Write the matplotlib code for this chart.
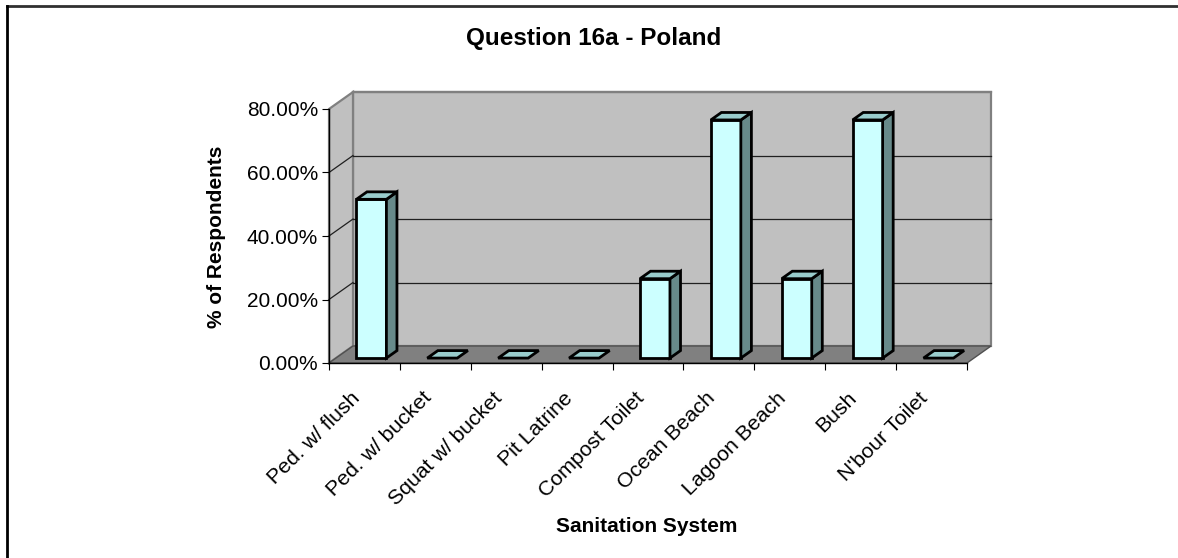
import matplotlib
matplotlib.use("Agg")
import matplotlib.pyplot as plt
from matplotlib.patches import Polygon
from matplotlib.transforms import offset_copy
import numpy as np

# donnees du graphique
categories = ["Ped. w/ flush", "Ped. w/ bucket", "Squat w/ bucket", "Pit Latrine",
              "Compost Toilet", "Ocean Beach", "Lagoon Beach", "Bush", "N'bour Toilet"]
valeurs = [50, 0, 0, 0, 25, 75, 25, 75, 0]
yticks = [0, 20, 40, 60, 80]

plt.rcParams['font.family'] = ['Liberation Sans', 'DejaVu Sans']

W, H = 1178, 558
fig = plt.figure(figsize=(W/100, H/100), dpi=100)
# zone du graphique : bord avant du sol -> axes
ax = fig.add_axes([329/W, 1-363/H, (967-329)/W, (363-109)/H])
n = len(categories)
ax.set_xlim(0, n)
ax.set_ylim(0, 80)
ax.patch.set_visible(False)

# profondeur 3D (en unites de donnees)
DX = 0.3386
DY = 5.35
ymax = yticks[-1]

gris_mur = "#C0C0C0"
gris_sol = "#808080"

# mur du fond
ax.add_patch(Polygon([(DX, DY), (n+DX, DY), (n+DX, ymax+DY), (DX, ymax+DY)],
                     closed=True, fc=gris_mur, ec=gris_sol, lw=1.6, clip_on=False, zorder=1))
# mur de gauche
ax.add_patch(Polygon([(0, 0), (DX, DY), (DX, ymax+DY), (0, ymax)],
                     closed=True, fc=gris_mur, ec=gris_sol, lw=1.6, clip_on=False, zorder=1))
# sol
ax.add_patch(Polygon([(0, 0), (n, 0), (n+DX, DY), (DX, DY)],
                     closed=True, fc=gris_sol, ec="#505050", lw=1.0, clip_on=False, zorder=1.2))

# quadrillage
for v in yticks[1:-1]:
    ax.plot([DX, n+DX], [v+DY, v+DY], color="#202020", lw=0.9, clip_on=False, zorder=1.1)
    ax.plot([0, DX], [v, v+DY], color="#202020", lw=0.9, clip_on=False, zorder=1.1)
ax.plot([DX, n+DX], [ymax+DY, ymax+DY], color=gris_sol, lw=1.6, clip_on=False, zorder=1.1)

# barres
w = 0.423
f0, f1 = 0.29, 0.73
ddx, ddy = (f1-f0)*DX, (f1-f0)*DY
for i, v in enumerate(valeurs):
    c = i + 0.5
    xl = c - w/2 + f0*DX
    xr = c + w/2 + f0*DX
    y0 = f0*DY
    top = v + y0
    if v > 0:
        ax.add_patch(Polygon([(xl, y0), (xr, y0), (xr, top), (xl, top)],
                             closed=True, fc="#CCFFFF", ec="black", lw=2.0, clip_on=False, zorder=3))
        ax.add_patch(Polygon([(xr, y0), (xr+ddx, y0+ddy), (xr+ddx, top+ddy), (xr, top)],
                             closed=True, fc="#678A8A", ec="black", lw=2.0, clip_on=False, zorder=3))
    ax.add_patch(Polygon([(xl, top), (xr, top), (xr+ddx, top+ddy), (xl+ddx, top+ddy)],
                         closed=True, fc="#99CCCC", ec="black", lw=2.0, clip_on=False, zorder=3))

# axes
for s in ["top", "right"]:
    ax.spines[s].set_visible(False)
ax.spines["left"].set_color("black")
ax.spines["bottom"].set_color("black")
ax.spines["left"].set_linewidth(1.0)
ax.spines["bottom"].set_linewidth(1.0)
ax.spines["left"].set_zorder(2.5)
ax.spines["bottom"].set_zorder(2.5)

ax.set_yticks(yticks)
ax.set_yticklabels(["%.2f%%" % t for t in yticks])
ax.set_xticks(np.arange(0, n+1))
ax.set_xticklabels([])
ax.tick_params(axis="y", direction="out", length=5, width=0.8, pad=3, labelsize=15)
ax.tick_params(axis="x", direction="out", length=5, width=0.8)

trans = offset_copy(ax.transData, fig=fig, x=-7, y=-32, units="dots")
for i, lab in enumerate(categories):
    ax.text(i + 0.5, 0, lab, transform=trans, rotation=45, ha="right", va="center",
            rotation_mode="anchor", fontsize=15.3)

# titres
fig.text(594/W, 1-38/H, "Question 16a - Poland", ha="center", va="center",
         fontsize=17.5, fontweight="bold")
fig.text(217/W, 1-237/H, "% of Respondents", ha="center", va="center",
         rotation=90, fontsize=15, fontweight="bold")
fig.text(647/W, 1-527/H, "Sanitation System", ha="center", va="center",
         fontsize=15, fontweight="bold")

# cadre (haut et gauche seulement)
fig.add_artist(plt.Line2D([7/W, 1], [1-5.5/H, 1-5.5/H], color="#303030", lw=2.0))
fig.add_artist(plt.Line2D([7/W, 7/W], [0, 1-5.5/H], color="black", lw=2.0))

fig.savefig("out.png", dpi=100)
